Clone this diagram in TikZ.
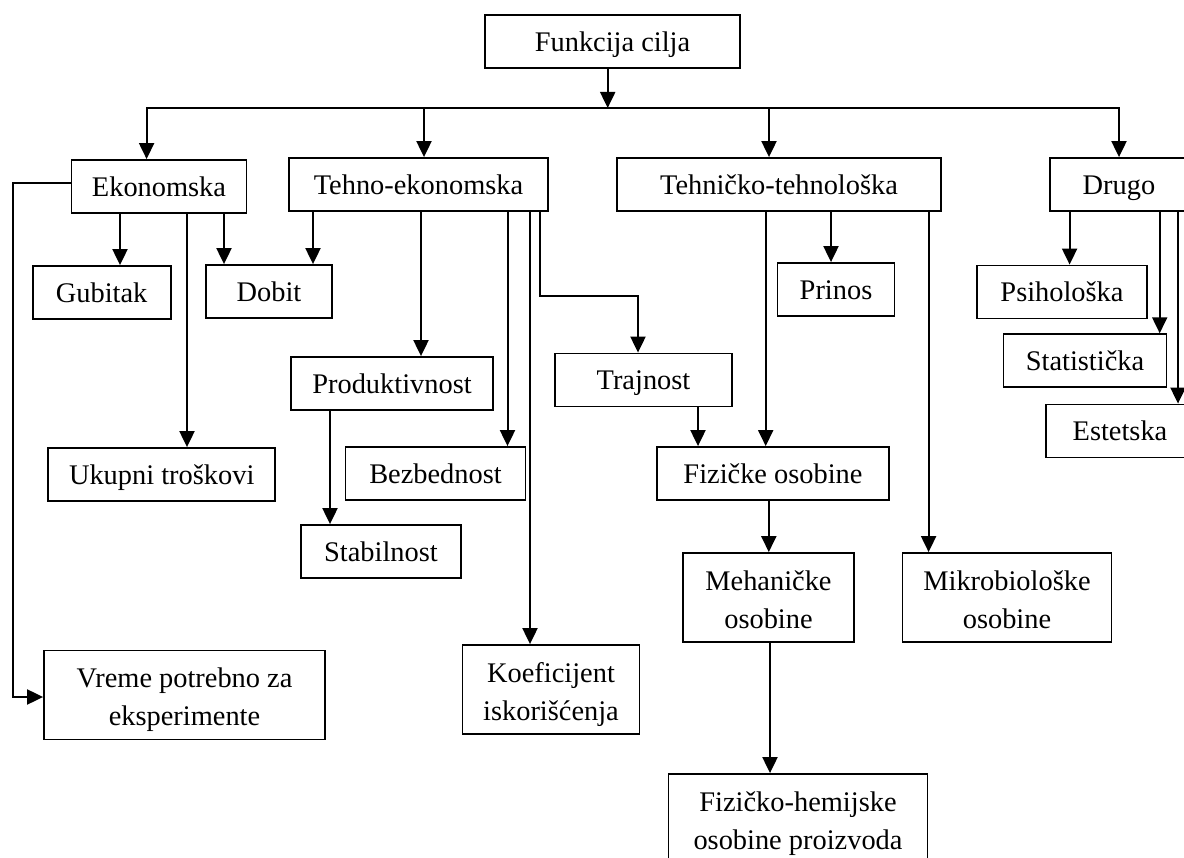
\documentclass[tikz,border=0pt]{standalone}
\usepackage{fontspec}
\setmainfont{Liberation Serif}
\usetikzlibrary{arrows.meta}

\begin{document}
\begin{tikzpicture}[
  x=1pt, y=-1pt,
  box/.style={draw, line width=1.8pt, minimum height=53pt, inner sep=2pt, text height=20pt, text depth=0pt, font=\fontsize{28.4}{37.6}\selectfont},
  box2/.style={box, minimum height=89pt, text height=61pt, text depth=0pt, align=center},
  arrow/.style={-{Triangle[length=16pt, width=15pt]}, line width=2pt}
]
\useasboundingbox (0,0) rectangle (1184,858);
\clip (0,0) rectangle (1184,858);

\node[box, minimum width=255pt] (fun) at (612.5,41.5) {Funkcija cilja};

\node[box, minimum width=175pt] (eko) at (159,186.5) {Ekonomska};
\node[box, minimum width=259pt] (teh) at (418.5,184.5) {Tehno-ekonomska};
\node[box, minimum width=324pt] (tt) at (779,184.5) {Tehničko-tehnološka};
\node[box, minimum width=138pt] (dru) at (1119,184.5) {Drugo};

\node[box, minimum width=138pt] (gub) at (101.6,292.5) {Gubitak};
\node[box, minimum width=126pt] (dob) at (269,291.5) {Dobit};
\node[box, minimum width=117pt] (pri) at (836,289.5) {Prinos};
\node[box, minimum width=170pt] (psi) at (1062,292) {Psihološka};
\node[box, minimum width=163pt] (sta) at (1085,360.7) {Statistička};
\node[box, minimum width=148pt] (est) at (1120,431) {Estetska};

\node[box, minimum width=202pt] (pro) at (392,383.5) {Produktivnost};
\node[box, minimum width=177pt] (tra) at (643.5,380) {Trajnost};
\node[box, minimum width=227pt] (uku) at (161.7,474.5) {Ukupni troškovi};
\node[box, minimum width=180pt] (bez) at (435.5,473.5) {Bezbednost};
\node[box, minimum width=232pt] (fiz) at (773,473.5) {Fizičke osobine};
\node[box, minimum width=160pt] (stb) at (381,551.5) {Stabilnost};

\node[box2, minimum width=171pt] (meh) at (768.5,597.5) {Mehaničke\\osobine};
\node[box2, minimum width=209pt] (mik) at (1007,597.5) {Mikrobiološke\\osobine};
\node[box2, minimum width=281pt] (vre) at (184.5,695) {Vreme potrebno za\\eksperimente};
\node[box2, minimum width=177pt] (koe) at (551,689.5) {Koeficijent\\iskorišćenja};
\node[box2, minimum width=259pt] (fh) at (798,818.5) {Fizičko-hemijske\\osobine proizvoda};

% razvod od funkcije cilja
\coordinate (bus) at (607.7,108);
\draw[arrow] ([xshift=-4.8]fun.south) -- (bus);
\draw[arrow] (bus) -| ([xshift=-12.4]eko.north);
\draw[arrow] (bus) -| ([xshift=5.5]teh.north);
\draw[arrow] (bus) -| ([xshift=-10]tt.north);
\draw[arrow] (bus) -| (dru.north);

% Ekonomska
\draw[arrow] ([yshift=3.5]eko.west) -- ++(-58,0) |- ([yshift=-2]vre.west);
\draw[arrow] ([xshift=-39]eko.south) -- ([xshift=-39]eko.south |- gub.north);
\draw[arrow] ([xshift=28]eko.south) -- ([xshift=28]eko.south |- uku.north);
\draw[arrow] ([xshift=65]eko.south) -- ([xshift=65]eko.south |- dob.north);

% Tehno-ekonomska
\draw[arrow] ([xshift=-105.5]teh.south) -- ([xshift=-105.5]teh.south |- dob.north);
\draw[arrow] ([xshift=2.5]teh.south) -- ([xshift=2.5]teh.south |- pro.north);
\draw[arrow] ([xshift=89]teh.south) -- ([xshift=89]teh.south |- bez.north);
\draw[arrow] ([xshift=111.5]teh.south) -- ([xshift=111.5]teh.south |- koe.north);
\draw[arrow] ([xshift=121.5]teh.south) -- ++(0,84) -| ([xshift=-5.5]tra.north);
\draw[arrow] ([xshift=-62]pro.south) -- ([xshift=-62]pro.south |- stb.north);
\draw[arrow] ([xshift=54.5]tra.south) -- ([xshift=54.5]tra.south |- fiz.north);

% Tehnicko-tehnoloska
\draw[arrow] ([xshift=-13.3]tt.south) -- ([xshift=-13.3]tt.south |- fiz.north);
\draw[arrow] ([xshift=52]tt.south) -- ([xshift=52]tt.south |- pri.north);
\draw[arrow] ([xshift=149.6]tt.south) -- ([xshift=149.6]tt.south |- mik.north);
\draw[arrow] ([xshift=-4.2]fiz.south) -- ([xshift=-4.2]fiz.south |- meh.north);
\draw[arrow] ([xshift=1.5]meh.south) -- ([xshift=1.5]meh.south |- fh.north);

% Drugo
\draw[arrow] ([xshift=-49.4]dru.south) -- ([xshift=-49.4]dru.south |- psi.north);
\draw[arrow] ([xshift=40.7]dru.south) -- ([xshift=40.7]dru.south |- sta.north);
\draw[arrow] ([xshift=59]dru.south) -- ([xshift=59]dru.south |- est.north);
\end{tikzpicture}
\end{document}
